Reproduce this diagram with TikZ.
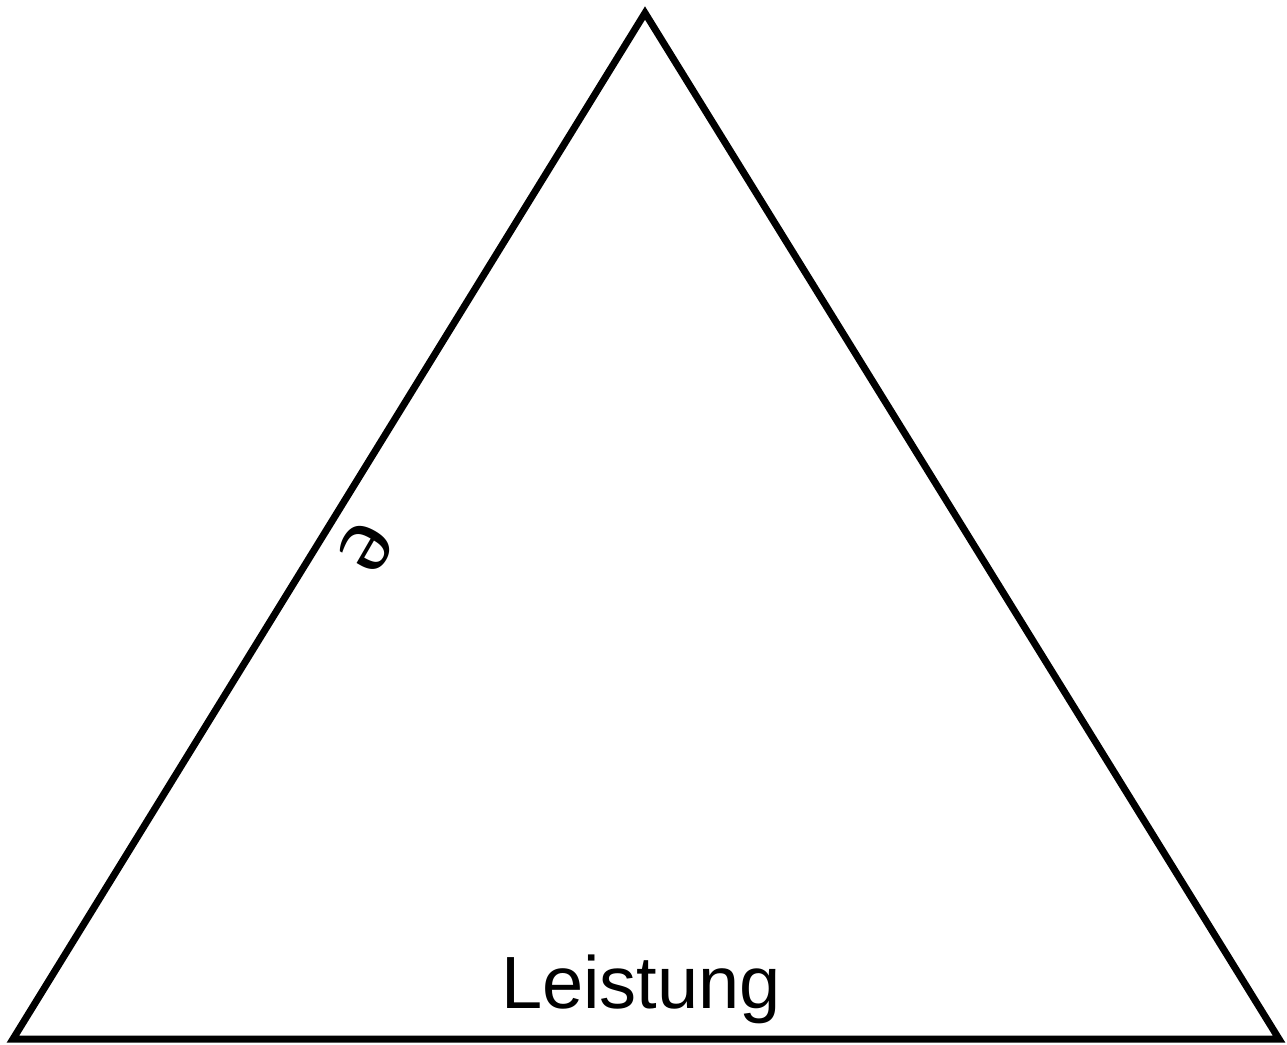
\documentclass[tikz,border=0pt]{standalone}
\usepackage{fontspec}
\newfontfamily\myarial{Liberation Sans}
\newfontfamily\mytimes{Liberation Serif}
\begin{document}
\begin{tikzpicture}[x=1pt,y=-1pt,
  edge/.style={line width=7pt,line join=miter},
  lbl/.style={inner sep=0pt,font=\myarial\fontsize{74}{80}\selectfont},
  sidelbl/.style={inner sep=0pt,font=\mytimes\fontsize{100}{100}\selectfont}]
\useasboundingbox (0,0) rectangle (1287,1044);
\coordinate (top) at (645,13);
\coordinate (bl) at (13,1039);
\coordinate (br) at (1279,1039);
\draw[edge] (top) -- (bl) -- (br) -- cycle;
\node[lbl,anchor=base] (leistung) at (641,1008) {Leistung};
\node[sidelbl,rotate=240] (e) at (366,547) {e};
\end{tikzpicture}
\end{document}
